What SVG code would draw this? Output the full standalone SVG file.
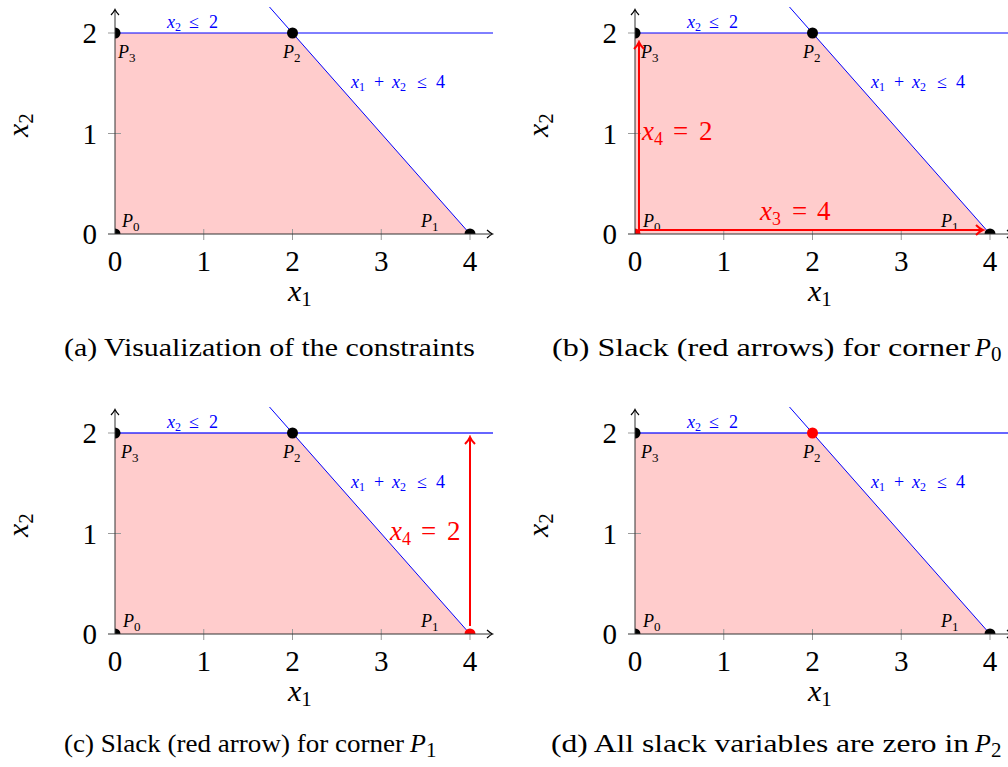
<svg xmlns="http://www.w3.org/2000/svg" width="1008" height="767" viewBox="0 0 1008 767">
<style>
  text { font-family: 'Liberation Serif', 'DejaVu Serif', serif; fill: #000; }
  .i { font-style: italic; }
  .tick { font-size: 29px; }
  .ax { font-size: 30px; font-style: italic; }
  .sub { font-size: 21px; font-style: normal; }
  .pl { font-size: 18px; font-style: italic; }
  .psub { font-size: 13px; font-style: normal; }
  .bl { font-size: 18px; fill: #0000ff; }
  .bsub { font-size: 12px; }
  .rl { font-size: 27px; fill: #ff0000; }
  .rsub { font-size: 18px; }
  .cap { font-size: 26px; }
  .region { fill: #ffcccc; stroke: none; }
  .c1 { stroke: #0000ff; stroke-width: 1; fill: none; }
  .c2 { stroke: #0000ff; stroke-width: 1; fill: none; }
  .c2b { stroke: #0000ff; stroke-opacity: 0.6; stroke-width: 2.2; fill: none; }
  .axis { stroke: #333; stroke-width: 1; fill: none; marker-end: url(#ah); }
  .tk { stroke: #999; stroke-width: 1; }
  .dot { fill: #000; }
  .rdot { fill: #ff0000; }
  .rarr { stroke: #ff0000; stroke-width: 2; fill: none; marker-end: url(#rah); }
</style>
<defs>
  <marker id="ah" markerUnits="userSpaceOnUse" markerWidth="12" markerHeight="12" viewBox="-8 -6 10 12" refX="0" refY="0" orient="auto">
    <path d="M -5 -4 Q -1.5 -0.8 0.5 0 Q -1.5 0.8 -5 4" stroke="#000" stroke-width="1.2" fill="none"/>
  </marker>
  <marker id="rah" markerUnits="userSpaceOnUse" markerWidth="14" markerHeight="14" viewBox="-9 -7 11 14" refX="0" refY="0" orient="auto">
    <path d="M -6 -5 Q -2 -1 0.8 0 Q -2 1 -6 5" stroke="#ff0000" stroke-width="2" fill="none"/>
  </marker>
  <clipPath id="plotclip" clipPathUnits="userSpaceOnUse">
    <rect x="115" y="0" width="400" height="234"/>
  </clipPath>
</defs>

<!-- Panel (a) -->
<g id="panel-a" transform="translate(0,0)">
  <polygon class="region" points="115,234 470,234 292.5,33 115,33"/>
  <g class="tk">
    <line x1="203.75" y1="229" x2="203.75" y2="240"/><line x1="292.5" y1="229" x2="292.5" y2="240"/>
    <line x1="381.25" y1="229" x2="381.25" y2="240"/><line x1="470" y1="229" x2="470" y2="240"/>
    <line x1="108" y1="133.5" x2="121" y2="133.5"/><line x1="108" y1="33" x2="121" y2="33"/>
  </g>
  <line class="c2" x1="115" y1="33" x2="493" y2="33"/>
  <line class="c1" x1="269.5" y1="7" x2="470" y2="234"/>
  <g clip-path="url(#plotclip)">
    <circle class="dot" cx="115" cy="234" r="5.5"/><circle class="dot" cx="470" cy="234" r="5.5"/>
    <circle class="dot" cx="292.5" cy="33" r="5.5"/><circle class="dot" cx="115" cy="33" r="5.5"/>
  </g>
  <line class="axis" x1="108" y1="234" x2="492" y2="234"/>
  <line class="axis" x1="115" y1="234" x2="115" y2="10"/>
  <g class="tick" text-anchor="middle">
    <text x="115" y="271">0</text><text x="203.75" y="271">1</text><text x="292.5" y="271">2</text><text x="381.25" y="271">3</text><text x="470" y="271">4</text>
  </g>
  <g class="tick" text-anchor="end">
    <text x="97" y="244">0</text><text x="97" y="143.5">1</text><text x="97" y="43">2</text>
  </g>
  <text class="ax" x="288" y="301">x<tspan class="sub" dy="5">1</tspan></text>
  <text class="ax" transform="translate(28,137) rotate(-90)">x<tspan class="sub" dy="5">2</tspan></text>
  <text class="pl" x="118" y="58">P<tspan class="psub" dy="4">3</tspan></text>
  <text class="pl" x="283" y="58">P<tspan class="psub" dy="4">2</tspan></text>
  <text class="pl" x="122" y="227">P<tspan class="psub" dy="4">0</tspan></text>
  <text class="pl" x="421" y="227">P<tspan class="psub" dy="4">1</tspan></text>
  <text class="bl" y="28"><tspan class="i" x="167">x</tspan><tspan class="bsub" dy="3">2</tspan><tspan x="189" dy="-3">≤</tspan><tspan x="209">2</tspan></text>
  <text class="bl" y="88"><tspan class="i" x="351">x</tspan><tspan class="bsub" dy="3">1</tspan><tspan x="374" dy="-3">+</tspan><tspan class="i" x="392">x</tspan><tspan class="bsub" dy="3">2</tspan><tspan x="417" dy="-3">≤</tspan><tspan x="436">4</tspan></text>
</g>

<!-- Panel (b) -->
<g id="panel-b" transform="translate(520,0)">
  <polygon class="region" points="115,234 470,234 292.5,33 115,33"/>
  <g class="tk">
    <line x1="203.75" y1="229" x2="203.75" y2="240"/><line x1="292.5" y1="229" x2="292.5" y2="240"/>
    <line x1="381.25" y1="229" x2="381.25" y2="240"/><line x1="470" y1="229" x2="470" y2="240"/>
    <line x1="108" y1="133.5" x2="121" y2="133.5"/><line x1="108" y1="33" x2="121" y2="33"/>
  </g>
  <line class="c2" x1="115" y1="33" x2="493" y2="33"/>
  <line class="c1" x1="269.5" y1="7" x2="470" y2="234"/>
  <g clip-path="url(#plotclip)">
    <circle class="rdot" cx="115" cy="234" r="5.5"/><circle class="dot" cx="470" cy="234" r="5.5"/>
    <circle class="dot" cx="292.5" cy="33" r="5.5"/><circle class="dot" cx="115" cy="33" r="5.5"/>
  </g>
  <line class="axis" x1="108" y1="234" x2="492" y2="234"/>
  <line class="axis" x1="115" y1="234" x2="115" y2="10"/>
  <g class="tick" text-anchor="middle">
    <text x="115" y="271">0</text><text x="203.75" y="271">1</text><text x="292.5" y="271">2</text><text x="381.25" y="271">3</text><text x="470" y="271">4</text>
  </g>
  <g class="tick" text-anchor="end">
    <text x="97" y="244">0</text><text x="97" y="143.5">1</text><text x="97" y="43">2</text>
  </g>
  <text class="ax" x="288" y="301">x<tspan class="sub" dy="5">1</tspan></text>
  <text class="ax" transform="translate(28,137) rotate(-90)">x<tspan class="sub" dy="5">2</tspan></text>
  <text class="pl" x="121" y="58">P<tspan class="psub" dy="4">3</tspan></text>
  <text class="pl" x="283" y="58">P<tspan class="psub" dy="4">2</tspan></text>
  <text class="pl" x="123" y="227">P<tspan class="psub" dy="4">0</tspan></text>
  <text class="pl" x="421" y="227">P<tspan class="psub" dy="4">1</tspan></text>
  <text class="bl" y="28"><tspan class="i" x="167">x</tspan><tspan class="bsub" dy="3">2</tspan><tspan x="189" dy="-3">≤</tspan><tspan x="209">2</tspan></text>
  <text class="bl" y="88"><tspan class="i" x="351">x</tspan><tspan class="bsub" dy="3">1</tspan><tspan x="374" dy="-3">+</tspan><tspan class="i" x="392">x</tspan><tspan class="bsub" dy="3">2</tspan><tspan x="417" dy="-3">≤</tspan><tspan x="436">4</tspan></text>
  <g id="slack-b">
    <line class="rarr" x1="118" y1="230" x2="462" y2="230"/>
    <line class="rarr" x1="119" y1="232" x2="119" y2="43"/>
    <text class="rl" y="140"><tspan class="i" x="122">x</tspan><tspan class="rsub" dy="5">4</tspan><tspan x="153" dy="-5">=</tspan><tspan x="179">2</tspan></text>
    <text class="rl" y="220"><tspan class="i" x="240">x</tspan><tspan class="rsub" dy="5">3</tspan><tspan x="272" dy="-5">=</tspan><tspan x="297">4</tspan></text>
  </g>
</g>

<!-- Panel (c) -->
<g id="panel-c" transform="translate(0,400)">
  <polygon class="region" points="115,234 470,234 292.5,33 115,33"/>
  <g class="tk">
    <line x1="203.75" y1="229" x2="203.75" y2="240"/><line x1="292.5" y1="229" x2="292.5" y2="240"/>
    <line x1="381.25" y1="229" x2="381.25" y2="240"/><line x1="470" y1="229" x2="470" y2="240"/>
    <line x1="108" y1="133.5" x2="121" y2="133.5"/><line x1="108" y1="33" x2="121" y2="33"/>
  </g>
  <line class="c2b" x1="115" y1="33" x2="493" y2="33"/>
  <line class="c1" x1="269.5" y1="7" x2="470" y2="234"/>
  <g clip-path="url(#plotclip)">
    <circle class="dot" cx="115" cy="234" r="5.5"/><circle class="rdot" cx="470" cy="234" r="5.5"/>
    <circle class="dot" cx="292.5" cy="33" r="5.5"/><circle class="dot" cx="115" cy="33" r="5.5"/>
  </g>
  <line class="axis" x1="108" y1="234" x2="492" y2="234"/>
  <line class="axis" x1="115" y1="234" x2="115" y2="10"/>
  <g class="tick" text-anchor="middle">
    <text x="115" y="271">0</text><text x="203.75" y="271">1</text><text x="292.5" y="271">2</text><text x="381.25" y="271">3</text><text x="470" y="271">4</text>
  </g>
  <g class="tick" text-anchor="end">
    <text x="97" y="244">0</text><text x="97" y="143.5">1</text><text x="97" y="43">2</text>
  </g>
  <text class="ax" x="288" y="301">x<tspan class="sub" dy="5">1</tspan></text>
  <text class="ax" transform="translate(28,137) rotate(-90)">x<tspan class="sub" dy="5">2</tspan></text>
  <text class="pl" x="121" y="58">P<tspan class="psub" dy="4">3</tspan></text>
  <text class="pl" x="283" y="58">P<tspan class="psub" dy="4">2</tspan></text>
  <text class="pl" x="123" y="227">P<tspan class="psub" dy="4">0</tspan></text>
  <text class="pl" x="421" y="227">P<tspan class="psub" dy="4">1</tspan></text>
  <text class="bl" y="28"><tspan class="i" x="167">x</tspan><tspan class="bsub" dy="3">2</tspan><tspan x="189" dy="-3">≤</tspan><tspan x="209">2</tspan></text>
  <text class="bl" y="88"><tspan class="i" x="351">x</tspan><tspan class="bsub" dy="3">1</tspan><tspan x="374" dy="-3">+</tspan><tspan class="i" x="392">x</tspan><tspan class="bsub" dy="3">2</tspan><tspan x="417" dy="-3">≤</tspan><tspan x="436">4</tspan></text>
  <g id="slack-c">
    <line class="rarr" x1="470" y1="226" x2="470" y2="38"/>
    <text class="rl" y="140"><tspan class="i" x="390">x</tspan><tspan class="rsub" dy="5">4</tspan><tspan x="421" dy="-5">=</tspan><tspan x="447">2</tspan></text>
  </g>
</g>

<!-- Panel (d) -->
<g id="panel-d" transform="translate(520,400)">
  <polygon class="region" points="115,234 470,234 292.5,33 115,33"/>
  <g class="tk">
    <line x1="203.75" y1="229" x2="203.75" y2="240"/><line x1="292.5" y1="229" x2="292.5" y2="240"/>
    <line x1="381.25" y1="229" x2="381.25" y2="240"/><line x1="470" y1="229" x2="470" y2="240"/>
    <line x1="108" y1="133.5" x2="121" y2="133.5"/><line x1="108" y1="33" x2="121" y2="33"/>
  </g>
  <line class="c2b" x1="115" y1="33" x2="493" y2="33"/>
  <line class="c1" x1="269.5" y1="7" x2="470" y2="234"/>
  <g clip-path="url(#plotclip)">
    <circle class="dot" cx="115" cy="234" r="5.5"/><circle class="dot" cx="470" cy="234" r="5.5"/>
    <circle class="rdot" cx="292.5" cy="33" r="5.5"/><circle class="dot" cx="115" cy="33" r="5.5"/>
  </g>
  <line class="axis" x1="108" y1="234" x2="492" y2="234"/>
  <line class="axis" x1="115" y1="234" x2="115" y2="10"/>
  <g class="tick" text-anchor="middle">
    <text x="115" y="271">0</text><text x="203.75" y="271">1</text><text x="292.5" y="271">2</text><text x="381.25" y="271">3</text><text x="470" y="271">4</text>
  </g>
  <g class="tick" text-anchor="end">
    <text x="97" y="244">0</text><text x="97" y="143.5">1</text><text x="97" y="43">2</text>
  </g>
  <text class="ax" x="288" y="301">x<tspan class="sub" dy="5">1</tspan></text>
  <text class="ax" transform="translate(28,137) rotate(-90)">x<tspan class="sub" dy="5">2</tspan></text>
  <text class="pl" x="121" y="58">P<tspan class="psub" dy="4">3</tspan></text>
  <text class="pl" x="283" y="58">P<tspan class="psub" dy="4">2</tspan></text>
  <text class="pl" x="123" y="227">P<tspan class="psub" dy="4">0</tspan></text>
  <text class="pl" x="421" y="227">P<tspan class="psub" dy="4">1</tspan></text>
  <text class="bl" y="28"><tspan class="i" x="167">x</tspan><tspan class="bsub" dy="3">2</tspan><tspan x="189" dy="-3">≤</tspan><tspan x="209">2</tspan></text>
  <text class="bl" y="88"><tspan class="i" x="351">x</tspan><tspan class="bsub" dy="3">1</tspan><tspan x="374" dy="-3">+</tspan><tspan class="i" x="392">x</tspan><tspan class="bsub" dy="3">2</tspan><tspan x="417" dy="-3">≤</tspan><tspan x="436">4</tspan></text>
</g>

<!-- Captions -->
<g id="captions">
  <text class="cap" x="64" y="356" textLength="411" lengthAdjust="spacingAndGlyphs">(a) Visualization of the constraints</text>
  <text class="cap" x="552" y="356" textLength="418" lengthAdjust="spacingAndGlyphs">(b) Slack (red arrows) for corner</text>
  <text class="cap i" x="975" y="356">P<tspan class="sub" dy="5" font-size="18px">0</tspan></text>
  <text class="cap" x="64" y="752" textLength="340" lengthAdjust="spacingAndGlyphs">(c) Slack (red arrow) for corner</text>
  <text class="cap i" x="410" y="752">P<tspan class="sub" dy="5" font-size="18px">1</tspan></text>
  <text class="cap" x="551" y="752" textLength="418" lengthAdjust="spacingAndGlyphs">(d) All slack variables are zero in</text>
  <text class="cap i" x="975" y="752">P<tspan class="sub" dy="5" font-size="18px">2</tspan></text>
</g>
</svg>
